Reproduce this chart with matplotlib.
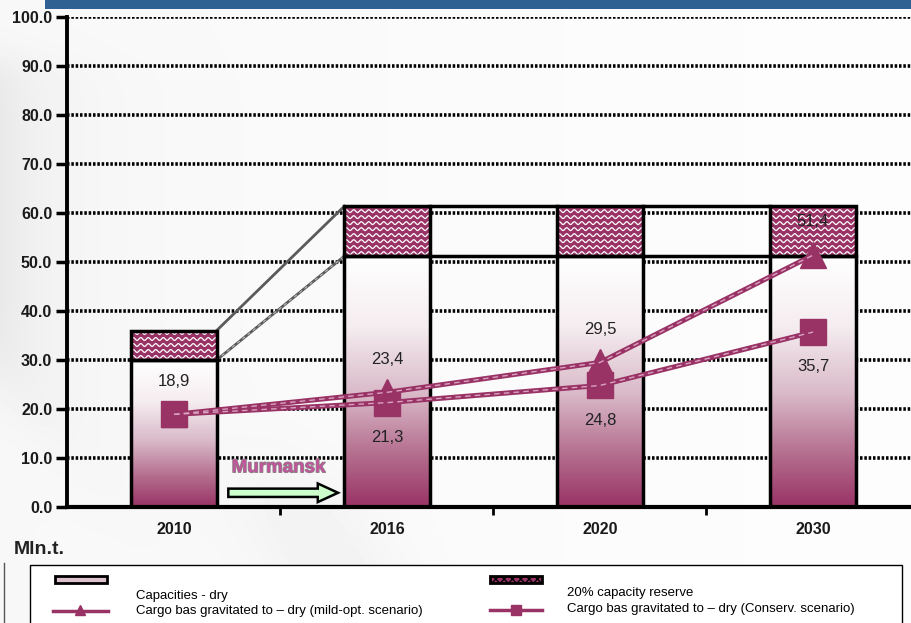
import numpy as np
import matplotlib
matplotlib.use("Agg")
import matplotlib.pyplot as plt
from matplotlib.patches import Rectangle, FancyArrow
from matplotlib.lines import Line2D
from matplotlib.colors import LinearSegmentedColormap
import matplotlib.patheffects as pe

plt.rcParams["font.family"] = ["Liberation Sans", "DejaVu Sans"]
plt.rcParams["hatch.color"] = "white"

# ==========================
# data
# ==========================
years = ["2010", "2016", "2020", "2030"]
capacity = [30.0, 51.2, 51.2, 51.2]          # Capacities - dry
reserve = [6.0, 10.2, 10.2, 10.2]            # 20% capacity reserve
mild_opt = [18.9, 23.4, 29.5, 51.4]          # mild-opt. scenario
conserv = [18.9, 21.3, 24.8, 35.7]           # Conserv. scenario

mild_labels = ["18,9", "23,4", "29,5", "51,4"]
cons_labels = ["", "21,3", "24,8", "35,7"]

PURPLE = "#993366"
W, H = 912, 623

fig = plt.figure(figsize=(W / 100, H / 100), dpi=100)

# ==========================
# background
# ==========================
bg_ax = fig.add_axes([0, 0, 1, 1], zorder=0)
bg_ax.axis("off")
X, Y = np.meshgrid(np.arange(W), np.arange(H))


def sig(z):
    return 1.0 / (1.0 + np.exp(-z))


bg = np.full((H, W), 0.972)
left_shade = np.exp(-X / 55.0) * sig((Y - 60) / 12.0) * sig(-(Y - 380 - 1.2 * X) / 20.0)
bg -= 0.06 * left_shade
band = np.exp(-((X - 0.55 * Y - 20) / 70.0) ** 2) * sig((Y - 470) / 20.0)
bg -= 0.03 * band
bg += 0.02 * (X / W)
bg = np.clip(bg, 0, 1)
bg_ax.imshow(bg, cmap="gray", vmin=0, vmax=1, extent=(0, W, H, 0), aspect="auto")
bg_ax.set_xlim(0, W)
bg_ax.set_ylim(H, 0)

# ==========================
# main axes
# ==========================
left, right, top, bottom = 67.5, 67.5 + 852, 17, 507
ax = fig.add_axes([left / W, (H - bottom) / H, (right - left) / W, (bottom - top) / H], zorder=1)
ax.set_facecolor("none")

x = np.arange(len(years))
bw = 0.4

ax.set_yticks(np.arange(0, 101, 10))
ax.set_yticklabels([f"{v:.1f}" for v in range(0, 101, 10)], fontsize=11.5, fontweight="bold",
                   color="#1a1a1a")
ax.yaxis.grid(True, color="black", linestyle=(0, (0.7, 0.5)), linewidth=2.6, zorder=0)
ax.set_axisbelow(True)
ax.tick_params(axis="y", direction="out", length=8, width=2.5, pad=3)

ax.set_xticks(x)
ax.set_xticklabels(years, fontsize=11.5, fontweight="bold", color="#1a1a1a")
ax.set_xticks([0.5, 1.5, 2.5], minor=True)
ax.tick_params(axis="x", which="major", length=0, pad=11)
ax.tick_params(axis="x", which="minor", direction="out", length=6, width=2)

for s in ["top", "right"]:
    ax.spines[s].set_visible(False)
ax.spines["left"].set_linewidth(2.8)
ax.spines["bottom"].set_linewidth(3)

ax.set_xlim(-0.5, 3.5)
ax.set_ylim(0, 100)

# pixel sizes of one data unit, for the wavy pattern
px_x = (right - left) / 4.0
px_y = (bottom - top) / 100.0

grad_cmap = LinearSegmentedColormap.from_list(
    "cap", [(0.0, "#ffffff"), (0.28, "#f5edf0"), (0.55, "#d9b9c8"),
            (0.8, "#b36b8c"), (1.0, PURPLE)])
grad = np.linspace(0, 1, 256).reshape(-1, 1)

for i in range(len(years)):
    x0, x1 = x[i] - bw / 2, x[i] + bw / 2
    # capacity bar with vertical gradient
    rect = Rectangle((x0, 0), bw, capacity[i], facecolor="white", edgecolor="none", zorder=2)
    ax.add_patch(rect)
    im = ax.imshow(grad, cmap=grad_cmap, extent=(x0, x1, 0, capacity[i]),
                   aspect="auto", origin="upper", zorder=2.1)
    im.set_clip_path(rect)
    ax.add_patch(Rectangle((x0, 0), bw, capacity[i], facecolor="none",
                           edgecolor="black", linewidth=2.5, zorder=3))

    # reserve bar with wavy pattern
    y0, y1 = capacity[i], capacity[i] + reserve[i]
    rrect = Rectangle((x0, y0), bw, reserve[i], facecolor=PURPLE, edgecolor="none", zorder=2)
    ax.add_patch(rrect)
    xs = np.linspace(x0, x1, 400)
    step = 6.0 / px_y
    amp = 1.4 / px_y
    wl = 7.5 / px_x
    yy = y0 + step * 0.5
    while yy < y1 + step:
        wave, = ax.plot(xs, yy + amp * np.sin(2 * np.pi * (xs - x0) / wl),
                        color="white", linewidth=0.9, zorder=2.2)
        wave.set_clip_path(rrect)
        yy += step
    ax.add_patch(Rectangle((x0, y0), bw, reserve[i], facecolor="none",
                           edgecolor="black", linewidth=2.5, zorder=3))

# connectors between the stacked bars
tot = [c + r for c, r in zip(capacity, reserve)]
ax.plot([x[0] + bw / 2, x[1] - bw / 2], [tot[0], tot[1]], color="#5a5a5a", lw=2, zorder=2.5)
ax.plot([x[0] + bw / 2, x[1] - bw / 2], [capacity[0], capacity[1]], color="#5a5a5a",
        lw=2, zorder=2.5)
ax.plot([x[0] + bw / 2, x[1] - bw / 2], [capacity[0], capacity[1]], color="#bbbbbb",
        lw=0.8, linestyle=(0, (3, 3)), zorder=2.6)
for i in (1, 2):
    ax.plot([x[i] + bw / 2, x[i + 1] - bw / 2], [tot[i], tot[i + 1]], color="black", lw=2.5, zorder=2.5)
    ax.plot([x[i] + bw / 2, x[i + 1] - bw / 2], [capacity[i], capacity[i + 1]], color="black",
            lw=2.5, zorder=2.5)

# scenario lines
ax.plot(x, mild_opt, color=PURPLE, lw=3.6, marker="^", markersize=19, zorder=5)
ax.plot(x, conserv, color=PURPLE, lw=3.6, marker="s", markersize=19, zorder=5)
ax.plot(x, mild_opt, color="#d9a3bf", lw=1, linestyle=(0, (4, 3)), zorder=5.1)
ax.plot(x, conserv, color="#d9a3bf", lw=1, linestyle=(0, (4, 3)), zorder=5.1)

for i in range(len(years)):
    ax.annotate(mild_labels[i], (x[i], mild_opt[i]), xytext=(0, 24), textcoords="offset points",
                ha="center", va="center", fontsize=12, color="#222222", zorder=6)
    if cons_labels[i]:
        ax.annotate(cons_labels[i], (x[i], conserv[i]), xytext=(0, -25),
                    textcoords="offset points", ha="center", va="center",
                    fontsize=12, color="#222222", zorder=6)

# Murmansk arrow
ax.add_patch(FancyArrow(0.255, 2.9, 0.42, 0, width=1.7, head_width=3.8, head_length=0.095,
                        length_includes_head=False, facecolor="#ccffcc", edgecolor="black",
                        linewidth=1.8, zorder=4))
ax.text(0.49, 8.0, "Murmansk", ha="center", va="center", fontsize=13.5, fontweight="bold",
        color="#c0559a", zorder=6,
        path_effects=[pe.withStroke(linewidth=1.0, foreground="#8a8a8a")])

ax.set_xlim(-0.5, 3.5)
ax.set_ylim(0, 100)

# ==========================
# header, unit and legend
# ==========================
ov = fig.add_axes([0, 0, 1, 1], zorder=3)
ov.set_facecolor("none")
ov.axis("off")
ov.set_xlim(0, W)
ov.set_ylim(H, 0)

ov.add_patch(Rectangle((45, 0), W - 45, 9, facecolor="#2f6193", edgecolor="none"))
ov.text(14, 550, "Mln.t.", fontsize=14, fontweight="bold", va="center", ha="left", color="#222222")
ov.plot([4, 4], [563, 623], color="#555555", lw=1)

ov.add_patch(Rectangle((30, 565), 872, 70, facecolor="white", edgecolor="black", lw=1))

# capacities symbol
ov.add_patch(Rectangle((55, 576), 52, 7, facecolor="#dcc0cc", edgecolor="black", lw=2))
ov.text(136, 596, "Capacities - dry", fontsize=9.5, va="center", ha="left")
ov.add_line(Line2D([53, 108], [611, 611], color=PURPLE, lw=2.5))
ov.add_line(Line2D([80], [610], color=PURPLE, marker="^", markersize=7))
ov.text(136, 611, "Cargo bas gravitated to \u2013 dry (mild-opt. scenario)", fontsize=9.5,
        va="center", ha="left")

# reserve symbol
ov.add_patch(Rectangle((490, 576), 52, 7, facecolor=PURPLE, edgecolor="black", lw=2,
                       hatch="xxxx"))
ov.text(567, 593, "20% capacity reserve", fontsize=9.5, va="center", ha="left")
ov.add_line(Line2D([490, 542], [610, 610], color=PURPLE, lw=2.5))
ov.add_line(Line2D([516], [610], color=PURPLE, marker="s", markersize=7))
ov.text(567, 609, "Cargo bas gravitated to \u2013 dry (Conserv. scenario)", fontsize=9.5,
        va="center", ha="left")

fig.savefig("out.png", dpi=100)
